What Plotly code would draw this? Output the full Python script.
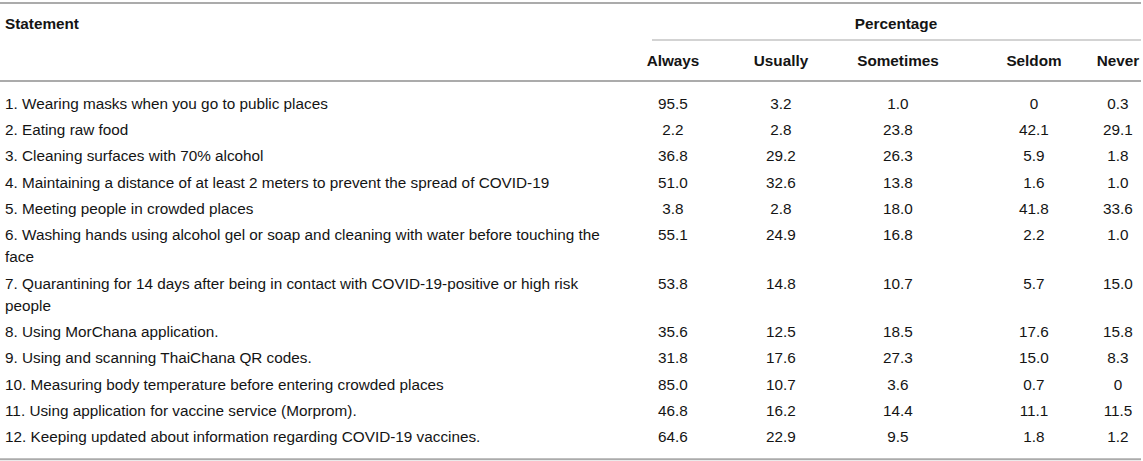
import textwrap
import plotly.graph_objects as go

# ---------------- data ----------------
statements = [
    "1. Wearing masks when you go to public places",
    "2. Eating raw food",
    "3. Cleaning surfaces with 70% alcohol",
    "4. Maintaining a distance of at least 2 meters to prevent the spread of COVID-19",
    "5. Meeting people in crowded places",
    "6. Washing hands using alcohol gel or soap and cleaning with water before touching the face",
    "7. Quarantining for 14 days after being in contact with COVID-19-positive or high risk people",
    "8. Using MorChana application.",
    "9. Using and scanning ThaiChana QR codes.",
    "10. Measuring body temperature before entering crowded places",
    "11. Using application for vaccine service (Morprom).",
    "12. Keeping updated about information regarding COVID-19 vaccines.",
]
columns = ["Always", "Usually", "Sometimes", "Seldom", "Never"]
always = [95.5, 2.2, 36.8, 51.0, 3.8, 55.1, 53.8, 35.6, 31.8, 85.0, 46.8, 64.6]
usually = [3.2, 2.8, 29.2, 32.6, 2.8, 24.9, 14.8, 12.5, 17.6, 10.7, 16.2, 22.9]
sometimes = [1.0, 23.8, 26.3, 13.8, 18.0, 16.8, 10.7, 18.5, 27.3, 3.6, 14.4, 9.5]
seldom = [0, 42.1, 5.9, 1.6, 41.8, 2.2, 5.7, 17.6, 15.0, 0.7, 11.1, 1.8]
never = [0.3, 29.1, 1.8, 1.0, 33.6, 1.0, 15.0, 15.8, 8.3, 0, 11.5, 1.2]
header_left = "Statement"
header_group = "Percentage"

# ---------------- layout ----------------
W, H = 1143, 461
FONT = "Liberation Sans, Arial, Helvetica, sans-serif"
FS = 15.3
TXT = "#141414"
col_x = [673, 781, 898, 1034, 1118]
left_x = 5
first_row_y = 105
row_step = 26.3
line_step = 22
head_y = 25
sub_y = 62

def fmt(v):
    return "0" if v == 0 else f"{v:.1f}"

series = [always, usually, sometimes, seldom, never]

wrapped = [textwrap.wrap(s, width=88, break_on_hyphens=False) for s in statements]
row_y = []
y = first_row_y
for lines in wrapped:
    row_y.append(y)
    y += row_step + line_step * (len(lines) - 1)
bottom_y = row_y[-1] + (len(wrapped[-1]) - 1) * line_step + 21

fig = go.Figure()

# statement texts (each wrapped line)
sx, sy, st = [], [], []
for lines, ry in zip(wrapped, row_y):
    for i, ln in enumerate(lines):
        sx.append(left_x)
        sy.append(ry + i * line_step)
        st.append(ln)
fig.add_trace(go.Scatter(x=sx, y=sy, text=st, mode="text", textposition="middle right",
                         textfont=dict(family=FONT, size=FS, color=TXT), hoverinfo="skip",
                         showlegend=False))

# numeric columns
for cx, vals in zip(col_x, series):
    fig.add_trace(go.Scatter(x=[cx] * len(vals), y=row_y, text=[fmt(v) for v in vals],
                             mode="text", textposition="middle center",
                             textfont=dict(family=FONT, size=FS, color=TXT),
                             hoverinfo="skip", showlegend=False))

# headers
fig.add_trace(go.Scatter(x=col_x, y=[sub_y] * len(columns), text=[f"<b>{c}</b>" for c in columns],
                         mode="text", textposition="middle center",
                         textfont=dict(family=FONT, size=FS, color=TXT),
                         hoverinfo="skip", showlegend=False))
fig.add_trace(go.Scatter(x=[left_x], y=[head_y], text=[f"<b>{header_left}</b>"],
                         mode="text", textposition="middle right",
                         textfont=dict(family=FONT, size=FS, color=TXT),
                         hoverinfo="skip", showlegend=False))
fig.add_trace(go.Scatter(x=[(652 + 1140) / 2], y=[head_y], text=[f"<b>{header_group}</b>"],
                         mode="text", textposition="middle center",
                         textfont=dict(family=FONT, size=FS, color=TXT),
                         hoverinfo="skip", showlegend=False))

# rules
shapes = [
    dict(type="line", x0=0, x1=1141, y0=3, y1=3, line=dict(color="#ababab", width=2)),
    dict(type="line", x0=652, x1=1141, y0=40, y1=40, line=dict(color="#c4c4c4", width=1.5)),
    dict(type="line", x0=0, x1=1141, y0=81, y1=81, line=dict(color="#ababab", width=2)),
    dict(type="line", x0=0, x1=1141, y0=bottom_y, y1=bottom_y, line=dict(color="#ababab", width=2)),
]
for s in shapes:
    s.update(xref="x", yref="y", layer="below")

fig.update_layout(
    width=W, height=H,
    margin=dict(l=0, r=0, t=0, b=0),
    paper_bgcolor="white", plot_bgcolor="white",
    xaxis=dict(range=[0, W], visible=False, fixedrange=True),
    yaxis=dict(range=[H, 0], visible=False, fixedrange=True),
    shapes=shapes,
    showlegend=False,
)

fig.write_html(
    "out.html",
    config={"displayModeBar": False},
    post_script="document.body.style.margin='0px';document.body.style.overflow='hidden';",
)
